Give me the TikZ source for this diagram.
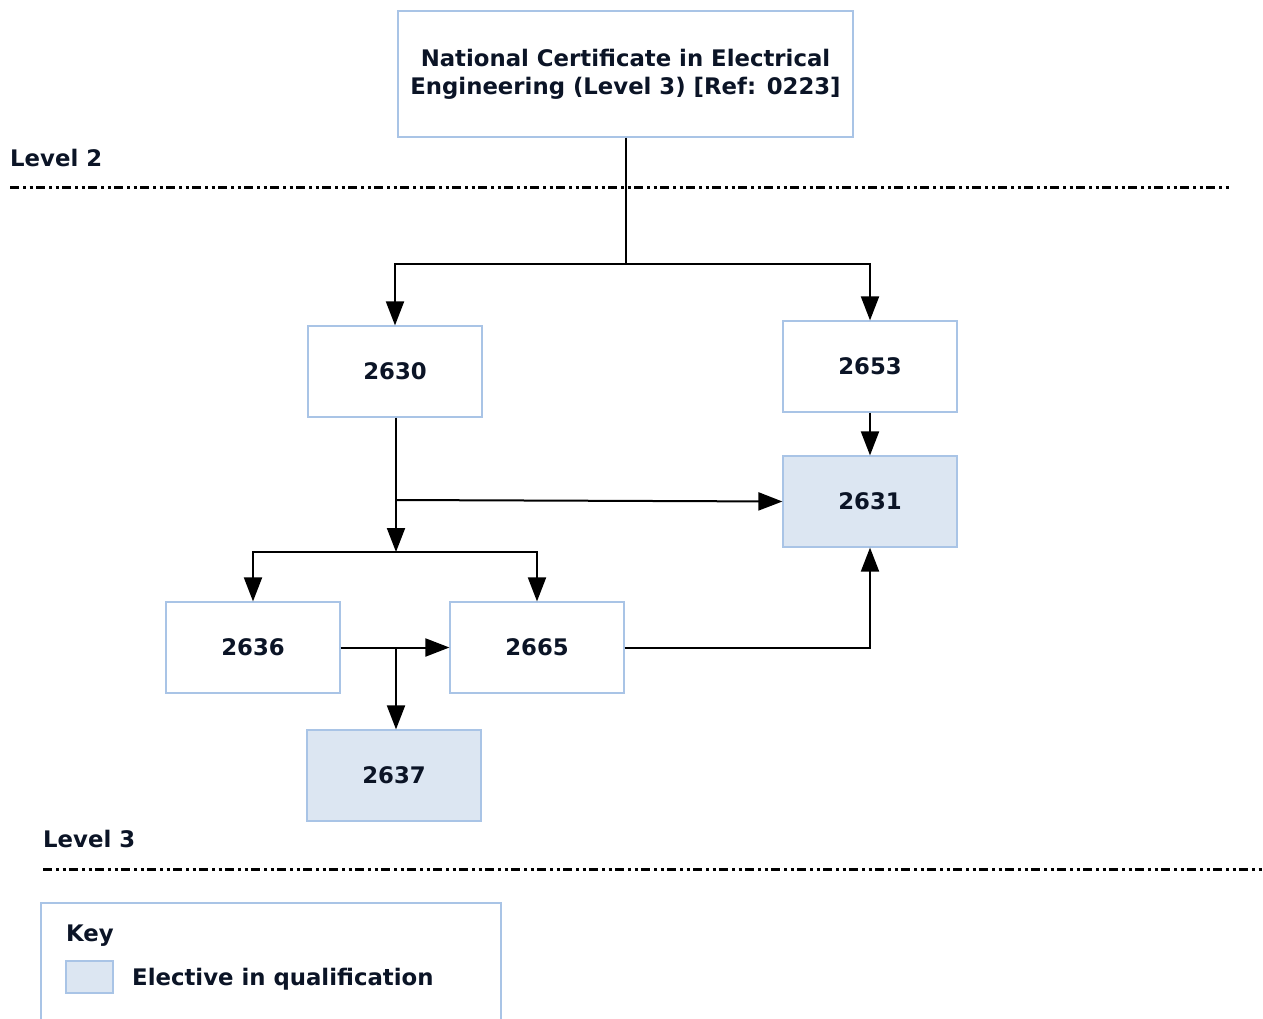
\documentclass[tikz,border=0pt]{standalone}
\usepackage{fontspec}
\setmainfont{DejaVu Sans}
\usetikzlibrary{arrows.meta}
\definecolor{bord}{HTML}{A9C4E6}
\definecolor{elec}{HTML}{DCE6F2}
\definecolor{ink}{HTML}{0B1426}
\begin{document}
\begin{tikzpicture}[x=1pt,y=-1pt,
  unit/.style={draw=bord,line width=1.2pt,minimum width=174pt,minimum height=91pt,inner sep=0pt,font=\bfseries\fontsize{22.8}{27}\selectfont,text=ink},
  elective/.style={unit,fill=elec},
  conn/.style={line width=2pt,draw=black},
  arr/.style={conn,-{Triangle[length=24pt,width=18pt]}},
  levelline/.style={line width=3pt,dash pattern=on 9pt off 4pt on 3pt off 3.5pt on 3pt off 3.5pt},
  lvl/.style={anchor=west,font=\bfseries\fontsize{22.8}{27}\selectfont,text=ink,inner sep=0pt}]
\useasboundingbox (0,0) rectangle (1263,1019);
% title
\node[draw=bord,line width=1.2pt,minimum width=455pt,minimum height=126pt,inner sep=0pt,align=center,font=\bfseries\fontsize{22.8}{28}\selectfont,text=ink] (title) at (625.5,74) {National Certificate in Electrical\\Engineering (Level 3) [Ref: 0223]};
% levels
\node[lvl] (l2) at (10,158) {Level 2};
\coordinate (l2a) at (10,188); \coordinate (l2b) at (1230,188);
\draw[levelline] (l2a) -- (l2b);
\node[lvl] (l3) at (43,839) {Level 3};
\coordinate (l3a) at (43,869); \coordinate (l3b) at (1263,869);
\draw[levelline] (l3a) -- (l3b);
% units
\node[unit] (u2630) at (395,371.5) {2630};
\node[unit] (u2653) at (870,366.5) {2653};
\node[elective] (u2631) at (870,501.5) {2631};
\node[unit] (u2636) at (253,647.5) {2636};
\node[unit] (u2665) at (537,647.5) {2665};
\node[elective] (u2637) at (394,775.5) {2637};
% connectors
\coordinate (j1) at (625.5,264);
\draw[conn] (title.south) -- (j1);
\draw[arr] (j1) -| (u2630.north);
\draw[arr] (j1) -| (u2653.north);
\draw[arr] (u2653) -- (u2631);
\coordinate (j2) at (396,552);
\coordinate (b1) at (396,500);
\draw[arr] (u2630.south -| j2) -- (j2);
\draw[arr] (b1) -- (u2631.west);
\draw[arr] (j2) -| (u2636.north);
\draw[arr] (j2) -| (u2665.north);
\draw[arr] (u2636) -- (u2665);
\coordinate (b2) at (396,647.5);
\draw[arr] (b2) -- (b2 |- u2637.north);
\draw[arr] (u2665.east) -| (u2631.south);
% key
\coordinate (ka) at (41,1025);
\draw[draw=bord,line width=1.2pt] (ka) |- (501,903) -- (501,1025);
\node[anchor=west,font=\bfseries\fontsize{22.8}{27}\selectfont,text=ink,inner sep=0pt] (keyt) at (66,936) {Key};
\node[draw=bord,fill=elec,line width=1.2pt,minimum width=47pt,minimum height=32pt,inner sep=0pt] (sw) at (89.5,977) {};
\node[anchor=west,font=\bfseries\fontsize{22.8}{27}\selectfont,text=ink,inner sep=0pt] (keyl) at (132,979) {Elective in qualification};
\end{tikzpicture}
\end{document}
